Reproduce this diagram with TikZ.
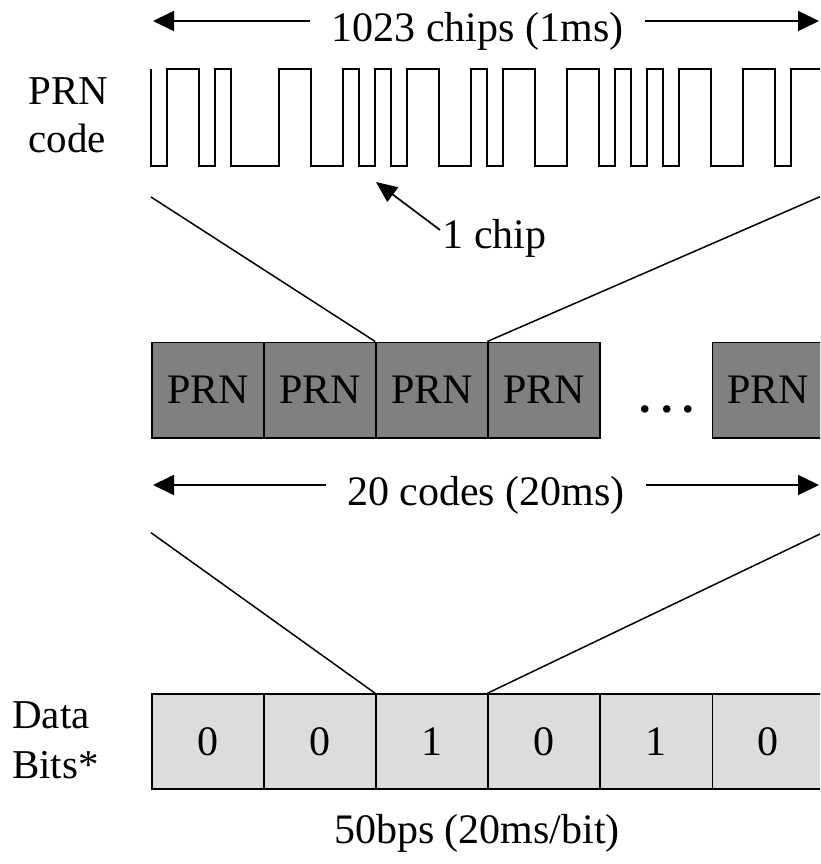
\documentclass[tikz,border=0pt]{standalone}
\usepackage{fontspec}
\setmainfont{Liberation Serif}
\usetikzlibrary{arrows.meta}

\definecolor{prngray}{RGB}{128,128,128}
\definecolor{bitgray}{RGB}{220,220,220}

\begin{document}
\begin{tikzpicture}[x=1pt,y=-1pt,
  lbl/.style={inner sep=0pt, font=\fontsize{42}{47}\selectfont},
  sidelbl/.style={inner sep=0pt, font=\fontsize{41}{47}\selectfont},
  cell/.style={draw, line width=1.7pt, minimum width=112.1pt,
    inner sep=0pt, anchor=north west, font=\fontsize{42}{47}\selectfont},
  codebox/.style={cell, fill=prngray, minimum height=95.5pt},
  bitbox/.style={cell, fill=bitgray, minimum height=95pt},
  dimline/.style={line width=1.7pt, -{Triangle[length=21pt,width=20pt]}},
  ptr/.style={line width=1.7pt, -{Triangle[length=21pt,width=18pt]}},
  fan/.style={line width=1.5pt},
  wave/.style={line width=1.7pt, line join=miter}
]
\useasboundingbox (0,0) rectangle (820,864);
\clip (0,0) rectangle (820,864);

% ---- one code period: 1023 chips ----
\node[lbl, anchor=base, inner xsep=21pt] (chips) at (477.5,42) {1023 chips (1ms)};
\coordinate (chipsL) at (153,21);
\coordinate (chipsR) at (819,21);
\draw[dimline] (chips.west |- chipsL) -- (chipsL);
\draw[dimline] (chips.east |- chipsR) -- (chipsR);

\node[sidelbl, anchor=base] (prnA) at (68.5,105) {PRN};
\node[sidelbl, anchor=base] (prnB) at (67,152.5) {code};

% chip sequence (high = 69, low = 165.7, 16 units per chip)
\draw[wave] (151,69)
  |- (167,165.7) |- (199,69) |- (215,165.7) |- (231,69)
  |- (279,165.7) |- (311,69) |- (343,165.7) |- (359,69)
  |- (375,165.7) |- (391,69) |- (407,165.7) |- (439,69)
  |- (471,165.7) |- (487,69) |- (503,165.7) |- (535,69)
  |- (567,165.7) |- (599,69) |- (615,165.7) |- (631,69)
  |- (647,165.7) |- (663,69) |- (679,165.7) |- (711,69)
  |- (743,165.7) |- (775,69) |- (791,165.7) |- (830,69);

\node[lbl, anchor=base west] (chip) at (442.4,248) {1 chip};
\coordinate (chiptail) at (440,230);
\coordinate (chiptip) at (376,182);
\draw[ptr] (chiptail) -- (chiptip);

% ---- 20 code periods ----
\node[codebox] (p1) at (151,341.5) {PRN};
\node[codebox] (p2) at (263.1,341.5) {PRN};
\node[codebox] (p3) at (375.2,341.5) {PRN};
\node[codebox] (p4) at (487.3,341.5) {PRN};
\node[codebox] (p5) at (711.5,341.5) {PRN};
\node[inner sep=0pt, anchor=base, font=\fontsize{46}{47}\selectfont\bfseries]
  (dots) at (667,412) {.\hspace{10pt}.\hspace{10pt}.};

\coordinate (fanA) at (151,197);
\coordinate (fanB) at (820,196.7);
\draw[fan] (fanA) -- (p3.north west);
\draw[fan] (p4.north west) -- (fanB);

\node[lbl, anchor=base, inner xsep=21pt] (codes) at (486,505) {20 codes (20ms)};
\coordinate (codesL) at (153,485);
\coordinate (codesR) at (819,485);
\draw[dimline] (codes.west |- codesL) -- (codesL);
\draw[dimline] (codes.east |- codesR) -- (codesR);

% ---- navigation data bits ----
\coordinate (fanC) at (151,532.7);
\coordinate (fanD) at (820,534);

\node[bitbox] (d1) at (151,693.3) {0};
\node[bitbox] (d2) at (263.1,693.3) {0};
\node[bitbox] (d3) at (375.2,693.3) {1};
\node[bitbox] (d4) at (487.3,693.3) {0};
\node[bitbox] (d5) at (599.4,693.3) {1};
\node[bitbox] (d6) at (711.5,693.3) {0};

\draw[fan] (fanC) -- (d3.north west);
\draw[fan] (d4.north west) -- (fanD);

\node[sidelbl, anchor=base west] (dataA) at (12,728) {Data};
\node[sidelbl, anchor=base west] (dataB) at (12,778) {Bits*};

\node[lbl, anchor=base] (rate) at (477,843) {50bps (20ms/bit)};
\end{tikzpicture}
\end{document}
